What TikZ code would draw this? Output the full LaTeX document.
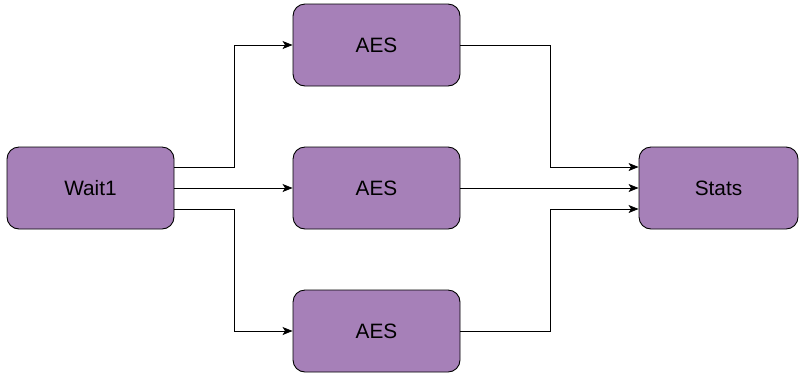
\documentclass[tikz,border=0pt]{standalone}
\usepackage{fontspec}
\setmainfont{Liberation Sans}
\usetikzlibrary{arrows.meta}
\begin{document}
\begin{tikzpicture}[x=1pt,y=-1pt,
  block/.style={draw=black, fill={rgb,255:red,166;green,128;blue,184}, rounded corners=12pt,
    minimum width=167pt, minimum height=82pt, line width=0.9pt, inner sep=0pt,
    font=\fontsize{20.8}{24}\selectfont},
  link/.style={draw=black, line width=0.8pt, -{Stealth[length=10pt,width=8pt,inset=2.5pt]}}]
\useasboundingbox (0,0) rectangle (799,376);
\node[block] (wait) at (90.5,188) {Wait1};
\node[block] (aes1) at (376.5,45) {AES};
\node[block] (aes2) at (376.5,188) {AES};
\node[block] (aes3) at (376.5,331) {AES};
\node[block, minimum width=159pt] (stats) at (718.5,188) {Stats};
% fan-out from Wait1
\draw[link] ([shift={(0,-21)}]wait.east) -| (234,45) -- (aes1.west);
\draw[link] (wait.east) -- (aes2.west);
\draw[link] ([shift={(0,21)}]wait.east) -| (234,331) -- (aes3.west);
% fan-in to Stats
\draw[link] (aes1.east) -| (550,167) -- ([shift={(0,-21)}]stats.west);
\draw[link] (aes2.east) -- (stats.west);
\draw[link] (aes3.east) -| (550,209) -- ([shift={(0,21)}]stats.west);
\end{tikzpicture}
\end{document}
